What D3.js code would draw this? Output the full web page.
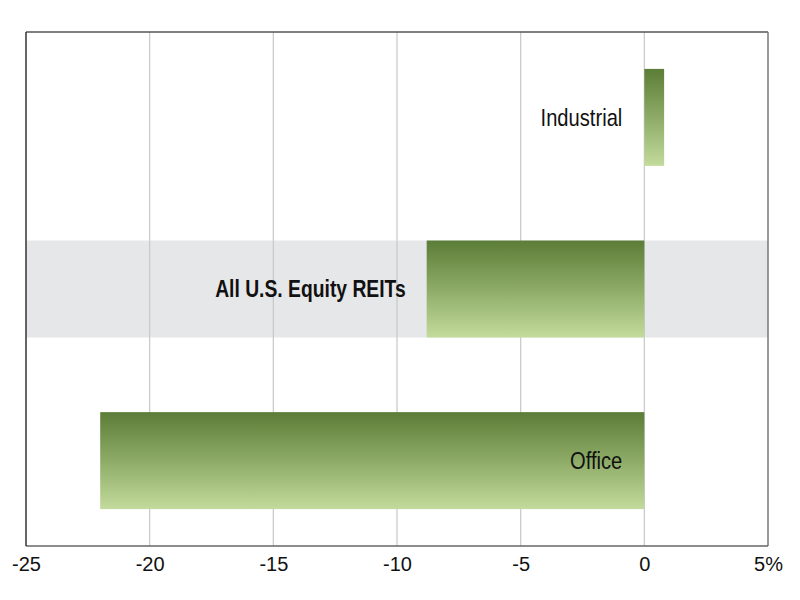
<!DOCTYPE html>
<html lang="en">
<head>
<meta charset="utf-8">
<script src="https://d3js.org/d3.v7.min.js"></script>
<style>
  body { margin: 0; background: #fff; }
  .label { font-family: "Liberation Sans", Arial, sans-serif; fill: #111; }
  .tick text { font-family: "Liberation Sans", Arial, sans-serif; font-size: 20px; fill: #111; }
</style>
</head>
<body>
<svg width="800" height="600"></svg>
<script>
  // data (% change)
  var categories = ["Industrial", "All U.S. Equity REITs", "Office"];
  var values = [0.8, -8.8, -22.0];
  var highlight = "All U.S. Equity REITs";
  var tickValues = [-25, -20, -15, -10, -5, 0, 5];
  var tickLabels = ["-25", "-20", "-15", "-10", "-5", "0", "5%"];

  var margin = {top: 32, right: 32, bottom: 54, left: 26};
  var width = 800, height = 600;
  var svg = d3.select("svg");

  var x = d3.scaleLinear().domain([-25, 5]).range([margin.left, width - margin.right]);
  var y = d3.scaleBand().domain(categories)
      .range([margin.top, height - margin.bottom])
      .paddingInner(0.435).paddingOuter(0.215);

  // gradient for the bars, dark on top
  var grad = svg.append("defs").append("linearGradient")
      .attr("id", "barfill").attr("x1", 0).attr("y1", 0).attr("x2", 0).attr("y2", 1);
  grad.append("stop").attr("offset", "0%").attr("stop-color", "#5c7d37");
  grad.append("stop").attr("offset", "50%").attr("stop-color", "#8dab66");
  grad.append("stop").attr("offset", "100%").attr("stop-color", "#c3db9c");

  var rows = categories.map(function (c, i) { return {cat: c, val: values[i]}; });

  // grey band behind the highlighted row
  svg.append("g").selectAll("rect")
      .data(rows.filter(function (d) { return d.cat === highlight; }))
      .enter().append("rect")
      .attr("x", x(-25))
      .attr("width", x(5) - x(-25))
      .attr("y", function (d) { return y(d.cat); })
      .attr("height", y.bandwidth())
      .attr("fill", "#e6e7e8");

  // vertical gridlines
  svg.append("g").selectAll("line")
      .data(tickValues.slice(1, -1))
      .enter().append("line")
      .attr("x1", function (d) { return x(d); })
      .attr("x2", function (d) { return x(d); })
      .attr("y1", margin.top)
      .attr("y2", height - margin.bottom)
      .attr("stroke", "#c8c8c8")
      .attr("stroke-width", 1.2);

  // bars
  svg.append("g").selectAll("rect")
      .data(rows)
      .enter().append("rect")
      .attr("x", function (d) { return x(Math.min(0, d.val)); })
      .attr("width", function (d) { return Math.abs(x(d.val) - x(0)); })
      .attr("y", function (d) { return y(d.cat); })
      .attr("height", y.bandwidth())
      .attr("fill", "url(#barfill)");

  // category labels (squeezed horizontally to look condensed)
  svg.append("g").selectAll("text")
      .data(rows)
      .enter().append("text")
      .attr("class", "label")
      .attr("text-anchor", "end")
      .attr("transform", function (d) {
          var lx = d.cat === highlight ? x(Math.min(0, d.val)) - 21 : x(0) - 22;
          var ly = y(d.cat) + y.bandwidth() / 2;
          return "translate(" + lx + "," + ly + ") scale(0.84,1)";
      })
      .attr("dy", "0.36em")
      .style("font-size", function (d) { return d.cat === highlight ? "23px" : "24px"; })
      .style("font-weight", function (d) { return d.cat === highlight ? "bold" : "normal"; })
      .text(function (d) { return d.cat; });

  // frame
  var yTop = margin.top, yBottom = height - margin.bottom;
  svg.append("line").attr("x1", x(-25)).attr("x2", x(5)).attr("y1", yTop).attr("y2", yTop)
      .attr("stroke", "#555").attr("stroke-width", 1.5);
  svg.append("line").attr("x1", x(5)).attr("x2", x(5)).attr("y1", yTop).attr("y2", yBottom)
      .attr("stroke", "#777").attr("stroke-width", 1.5);
  svg.append("line").attr("x1", x(-25)).attr("x2", x(5)).attr("y1", yBottom).attr("y2", yBottom)
      .attr("stroke", "#666").attr("stroke-width", 1.5);
  svg.append("line").attr("x1", x(-25)).attr("x2", x(-25)).attr("y1", yTop).attr("y2", yBottom)
      .attr("stroke", "#333").attr("stroke-width", 1.5);

  // x axis labels
  var axis = svg.append("g")
      .attr("transform", "translate(0," + yBottom + ")")
      .call(d3.axisBottom(x)
          .tickValues(tickValues)
          .tickSize(0)
          .tickPadding(11)
          .tickFormat(function (d, i) { return tickLabels[i]; }));
  axis.select(".domain").remove();
  axis.attr("font-size", null).attr("font-family", null);
</script>
</body>
</html>
